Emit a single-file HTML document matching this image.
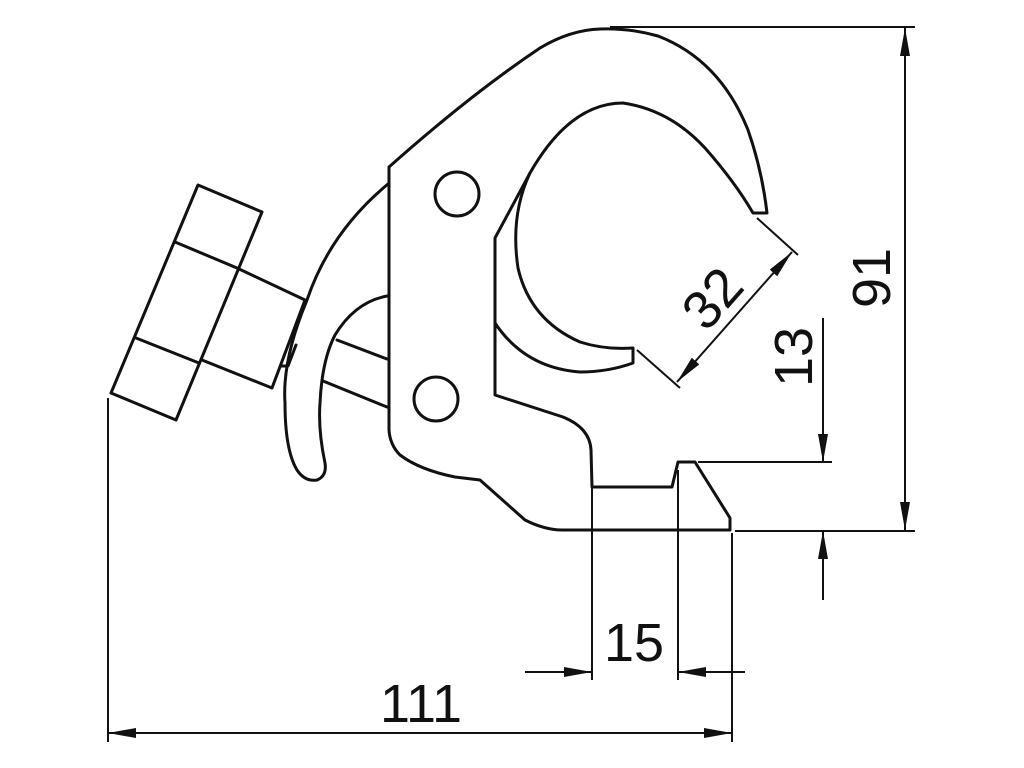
<!DOCTYPE html>
<html><head><meta charset="utf-8"><style>html,body{margin:0;padding:0;background:#fff}svg{display:block}</style></head>
<body>
<svg width="1024" height="768" viewBox="0 0 1024 768" xmlns="http://www.w3.org/2000/svg">
<defs>
<marker id="a" viewBox="0 0 28 12" refX="28" refY="6" markerWidth="28" markerHeight="12" markerUnits="userSpaceOnUse" orient="auto-start-reverse"><path d="M0,1 L28,6 L0,11 Z" fill="#111"/></marker>
</defs>
<g fill="none" stroke="#111" stroke-width="3" stroke-linejoin="round" stroke-linecap="round">
<!-- main body -->
<path d="M389,167 Q470,95 540,48 Q570,30 600,29 Q630,28 658,36 Q720,60 748,130 Q762,170 767,213 L753,213 Q735,182 705,148 Q670,110 623,103 Q570,103 530,173 L495,238 L495,395 L563,417 Q590,428 591,450 L592,487 L672,487 L678,462 L695,462 L730,518 L730,530 L562,530 Q545,530 525,520 L480,480 L455,477 Q420,470 400,455 Q390,445 389,430 Z"/>
<!-- inner jaw arc -->
<path d="M530,173 Q510,215 518,268 Q530,320 580,342 Q605,350 633,348 L633,363 Q608,372 580,372 Q525,368 495,323"/>
<!-- pins -->
<circle cx="457" cy="194" r="22"/>
<circle cx="436" cy="399" r="22"/>
<!-- lever -->
<path d="M388,184 Q330,232 307,300 Q282,360 285,403 Q285,450 297,470 Q305,482 317,480 Q327,476 325,463 Q318,430 320,403 Q322,360 335,335 Q355,302 387,296"/>
<!-- rod -->
<line x1="337" y1="340" x2="387" y2="359"/>
<line x1="323" y1="381" x2="387" y2="407"/>
<!-- knob -->
<path d="M198,185 L262,212 L176,420 L111,393 Z"/>
<line x1="175" y1="242" x2="237" y2="268"/>
<line x1="136" y1="338" x2="199" y2="363"/>
<path d="M237,268 L305,300 L272,388 L202,360"/>
<path d="M281,366 L288,366 L296,345"/>
</g>
<g stroke="#111" stroke-width="2" fill="none">
<!-- 91 -->
<line x1="610" y1="27" x2="915" y2="27"/>
<line x1="735" y1="531" x2="915" y2="531"/>
<line x1="905" y1="28" x2="905" y2="530" marker-start="url(#a)" marker-end="url(#a)"/>
<!-- 13 -->
<line x1="698" y1="462" x2="832" y2="462"/>
<line x1="823" y1="318" x2="823" y2="462" marker-end="url(#a)"/>
<line x1="823" y1="600" x2="823" y2="531" marker-end="url(#a)"/>
<!-- 32 -->
<line x1="757" y1="218" x2="798" y2="255"/>
<line x1="637" y1="350" x2="680" y2="388"/>
<line x1="677" y1="382" x2="792" y2="252" marker-start="url(#a)" marker-end="url(#a)"/>
<!-- 15 -->
<line x1="592" y1="487" x2="592" y2="680"/>
<line x1="678" y1="470" x2="678" y2="680"/>
<line x1="525" y1="672" x2="592" y2="672" marker-end="url(#a)"/>
<line x1="745" y1="672" x2="678" y2="672" marker-end="url(#a)"/>
<!-- 111 -->
<line x1="108" y1="398" x2="108" y2="742"/>
<line x1="732" y1="533" x2="732" y2="742"/>
<line x1="108" y1="733" x2="732" y2="733" marker-start="url(#a)" marker-end="url(#a)"/>
</g>
<g font-family="Liberation Sans, sans-serif" font-size="54" fill="#111" text-anchor="middle">
<text x="421" y="722">111</text>
<text x="634" y="661">15</text>
<text transform="translate(890,278) rotate(-90)" x="0" y="0">91</text>
<text transform="translate(812,357) rotate(-90)" x="0" y="0">13</text>
<text transform="translate(712,298) rotate(-48.5)" x="0" y="19">32</text>
</g>
</svg>
</body></html>
